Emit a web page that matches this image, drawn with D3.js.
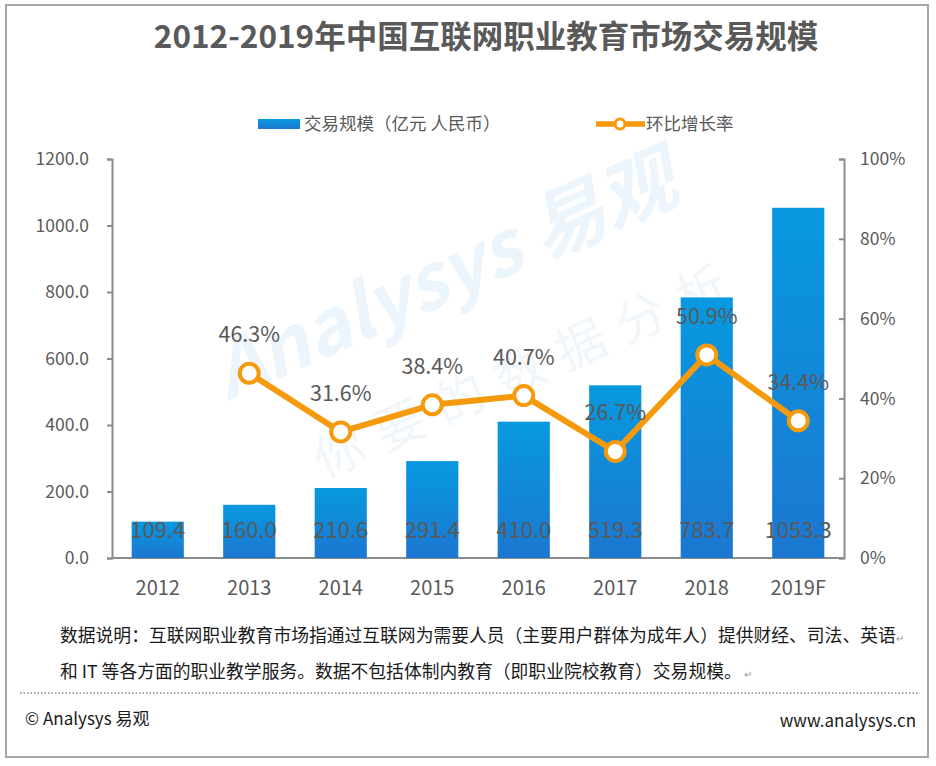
<!DOCTYPE html>
<html>
<head>
<meta charset="utf-8">
<script src="https://cdn.jsdelivr.net/npm/d3@7"></script>
<style>
  body { margin: 0; background: #fff; }
  svg text { font-family: "Noto Sans CJK SC", "Noto Sans", sans-serif; }
</style>
</head>
<body>
<svg class="chart"></svg>
<script>
// data
var years = ["2012", "2013", "2014", "2015", "2016", "2017", "2018", "2019F"];
var scale = [109.4, 160.0, 210.6, 291.4, 410.0, 519.3, 783.7, 1053.3];
var growth = [null, 46.3, 31.6, 38.4, 40.7, 26.7, 50.9, 34.4];
var leftTicks = [0, 200, 400, 600, 800, 1000, 1200];
var rightTicks = [0, 20, 40, 60, 80, 100];

var W = 936, H = 766;
var margin = {top: 159, right: 92, bottom: 208, left: 112};
var width = W - margin.left - margin.right;
var height = H - margin.top - margin.bottom;

var svg = d3.select(".chart").attr("width", W).attr("height", H);

// gradient for the bars
var grad = svg.append("defs").append("linearGradient")
	.attr("id", "barGrad").attr("x1", 0).attr("y1", 0).attr("x2", 0).attr("y2", 1);
grad.append("stop").attr("offset", "0%").attr("stop-color", "#0799e0");
grad.append("stop").attr("offset", "100%").attr("stop-color", "#1c77d1");

// outer frame
svg.append("rect").attr("x", 6).attr("y", 5).attr("width", 922).attr("height", 752)
	.attr("fill", "none").attr("stroke", "#a6a6a6").attr("stroke-width", 2);

// title
svg.append("text").attr("x", 486).attr("y", 48).attr("text-anchor", "middle")
	.attr("font-size", 31.5).attr("font-weight", "bold").attr("fill", "#595959")
	.text("2012-2019年中国互联网职业教育市场交易规模");

// watermark
svg.append("text").attr("transform", "translate(455,300) rotate(-24)")
	.attr("text-anchor", "middle").attr("font-size", 76).attr("font-weight", "bold")
	.attr("font-style", "italic").attr("fill", "#edf5fc")
	.text("Analysys 易观");
svg.append("text").attr("transform", "translate(535,385) rotate(-24)")
	.attr("text-anchor", "middle").attr("font-size", 50).attr("letter-spacing", 16)
	.attr("fill", "#f1f6fb")
	.text("你要的数据分析");

var chart = svg.append("g").attr("transform", "translate(" + margin.left + "," + margin.top + ")");

var x = d3.scaleBand().domain(years).range([0, width]).paddingInner(0.43).paddingOuter(0.215);
var yL = d3.scaleLinear().domain([0, 1200]).range([height, 0]);
var yR = d3.scaleLinear().domain([0, 100]).range([height, 0]);

// axes
var axL = chart.append("g").attr("class", "axis")
	.call(d3.axisLeft(yL).tickValues(leftTicks).tickSize(5).tickPadding(18)
		.tickFormat(function(d){ return d3.format(".1f")(d); }));
var axR = chart.append("g").attr("class", "axis").attr("transform", "translate(" + width + ",0)")
	.call(d3.axisRight(yR).tickValues(rightTicks).tickSize(-5).tickPadding(16)
		.tickFormat(function(d){ return d + "%"; }));
var axB = chart.append("g").attr("class", "axis").attr("transform", "translate(0," + height + ")")
	.call(d3.axisBottom(x).tickSize(0).tickPadding(23));

chart.selectAll(".axis path, .axis line").attr("stroke", "#8c8c8c").attr("stroke-width", 2);
chart.selectAll(".axis text").attr("fill", "#595959").attr("font-size", 17.5);
axB.selectAll("text").attr("font-size", 20);
axB.select("path").attr("d", "M0,0H" + width);

// bars
chart.selectAll(".bar").data(scale).enter().append("rect")
	.attr("class", "bar")
	.attr("x", function(d, i){ return x(years[i]); })
	.attr("y", function(d){ return yL(d); })
	.attr("width", x.bandwidth())
	.attr("height", function(d){ return height - yL(d); })
	.attr("fill", "url(#barGrad)");

// value labels inside bars
chart.selectAll(".vlab").data(scale).enter().append("text")
	.attr("x", function(d, i){ return x(years[i]) + x.bandwidth() / 2; })
	.attr("y", height - 20)
	.attr("text-anchor", "middle").attr("font-size", 22).attr("fill", "#595959")
	.text(function(d){ return d3.format(".1f")(d); });

// growth line
var pts = growth.map(function(d, i){ return {k: years[i], v: d}; }).filter(function(d){ return d.v !== null; });
var line = d3.line()
	.x(function(d){ return x(d.k) + x.bandwidth() / 2; })
	.y(function(d){ return yR(d.v); });
chart.append("path").datum(pts).attr("d", line)
	.attr("fill", "none").attr("stroke", "#f59a0d").attr("stroke-width", 6)
	.attr("stroke-linejoin", "round");
chart.selectAll(".dot").data(pts).enter().append("circle")
	.attr("cx", function(d){ return x(d.k) + x.bandwidth() / 2; })
	.attr("cy", function(d){ return yR(d.v); })
	.attr("r", 9.5).attr("fill", "#fff").attr("stroke", "#f59a0d").attr("stroke-width", 4);
chart.selectAll(".plab").data(pts).enter().append("text")
	.attr("x", function(d){ return x(d.k) + x.bandwidth() / 2; })
	.attr("y", function(d){ return yR(d.v) - 31; })
	.attr("text-anchor", "middle").attr("font-size", 21.5).attr("fill", "#595959")
	.text(function(d){ return d.v.toFixed(1) + "%"; });

// legend
var lg = svg.append("g");
lg.append("rect").attr("x", 258).attr("y", 119).attr("width", 42).attr("height", 10).attr("fill", "url(#barGrad)");
lg.append("text").attr("x", 304).attr("y", 130).attr("font-size", 17.5).attr("fill", "#595959")
	.text("交易规模（亿元 人民币）");
lg.append("line").attr("x1", 596).attr("x2", 645).attr("y1", 124).attr("y2", 124)
	.attr("stroke", "#f59a0d").attr("stroke-width", 5.5);
lg.append("circle").attr("cx", 620).attr("cy", 124).attr("r", 5).attr("fill", "#fff")
	.attr("stroke", "#f59a0d").attr("stroke-width", 3);
lg.append("text").attr("x", 646).attr("y", 130).attr("font-size", 17.5).attr("fill", "#595959")
	.text("环比增长率");

// note
var note = svg.append("g").attr("font-size", 17.8).attr("fill", "#1a1a1a");
var n1 = note.append("text").attr("x", 60).attr("y", 642)
	.text("数据说明：互联网职业教育市场指通过互联网为需要人员（主要用户群体为成年人）提供财经、司法、英语");
n1.append("tspan").attr("font-size", 10).attr("fill", "#999").text("↵");
var n2 = note.append("text").attr("x", 60).attr("y", 678)
	.text("和 IT 等各方面的职业教学服务。数据不包括体制内教育（即职业院校教育）交易规模。");
n2.append("tspan").attr("font-size", 10).attr("fill", "#999").text(" ↵");

// footer
svg.append("line").attr("x1", 20).attr("x2", 920).attr("y1", 693).attr("y2", 693)
	.attr("stroke", "#888").attr("stroke-width", 1.5).attr("stroke-dasharray", "1.5,2");
svg.append("text").attr("x", 25).attr("y", 725).attr("font-size", 17).attr("fill", "#1a1a1a")
	.text("© Analysys 易观");
svg.append("text").attr("x", 916).attr("y", 727).attr("text-anchor", "end")
	.attr("font-size", 17).attr("fill", "#1a1a1a").text("www.analysys.cn");
</script>
</body>
</html>
